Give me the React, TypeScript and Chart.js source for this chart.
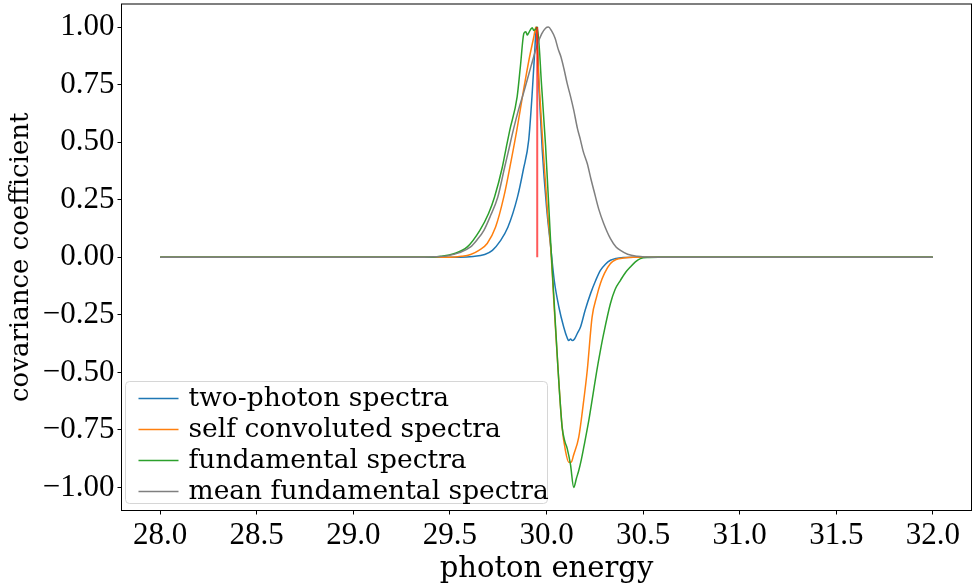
import React, { useEffect, useRef } from 'react';
import { Chart, registerables } from 'chart.js';

Chart.register(...registerables);

// ---- data ----
const xTicks = [28.0, 28.5, 29.0, 29.5, 30.0, 30.5, 31.0, 31.5, 32.0];
const yTicks = [-1.0, -0.75, -0.5, -0.25, 0.0, 0.25, 0.5, 0.75, 1.0];
const seriesLabels = ['two-photon spectra', 'self convoluted spectra', 'fundamental spectra', 'mean fundamental spectra'];
const seriesColors = ['#1f77b4', '#ff7f0e', '#2ca02c', '#7f7f7f'];
const markerColor = 'rgba(255,0,0,0.65)';
const xLabel = 'photon energy';
const yLabel = 'covariance coefficient';

const twoPhoton: [number, number][] = [
  [28, 0], [29.55, 0], [29.62, 0.003], [29.68, 0.012], [29.72, 0.03], [29.76, 0.07], [29.8, 0.13],
  [29.85, 0.262], [29.88, 0.38], [29.908, 0.51], [29.925, 0.7], [29.938, 0.88], [29.948, 1.0],
  [29.962, 0.72], [29.978, 0.465], [30.0, 0.22], [30.021, 0.05], [30.04, -0.1], [30.064, -0.216],
  [30.089, -0.303], [30.107, -0.35], [30.115, -0.362], [30.125, -0.355], [30.133, -0.362],
  [30.145, -0.355], [30.16, -0.33], [30.176, -0.303], [30.2, -0.23], [30.228, -0.158],
  [30.255, -0.1], [30.279, -0.057], [30.305, -0.03], [30.331, -0.013], [30.36, -0.005],
  [30.4, -0.001], [30.45, 0], [32, 0],
];

const selfConvoluted: [number, number][] = [
  [28, 0], [29.5, 0], [29.56, 0.004], [29.607, 0.012], [29.65, 0.03], [29.693, 0.06], [29.736, 0.13],
  [29.779, 0.262], [29.817, 0.42], [29.848, 0.56], [29.88, 0.72], [29.91, 0.86], [29.935, 0.96],
  [29.945, 1.0], [29.96, 0.78], [29.983, 0.465], [30.005, 0.2], [30.021, 0.05], [30.04, -0.22],
  [30.06, -0.49], [30.081, -0.74], [30.098, -0.84], [30.115, -0.89], [30.128, -0.89], [30.14, -0.86],
  [30.167, -0.781], [30.19, -0.64], [30.211, -0.491], [30.236, -0.26], [30.26, -0.17], [30.279, -0.114],
  [30.3, -0.07], [30.331, -0.027], [30.36, -0.01], [30.4, -0.003], [30.45, 0], [32, 0],
];

const fundamental: [number, number][] = [
  [28, 0], [29.4, 0], [29.452, 0.004], [29.52, 0.015], [29.59, 0.045], [29.655, 0.117], [29.7, 0.19],
  [29.731, 0.262], [29.771, 0.39], [29.79, 0.47], [29.81, 0.552], [29.848, 0.697], [29.865, 0.83],
  [29.883, 0.973], [29.893, 0.98], [29.9, 0.965], [29.908, 0.975], [29.918, 0.99], [29.926, 0.997],
  [29.934, 0.985], [29.943, 0.99], [29.952, 1.0], [29.975, 0.74], [29.995, 0.487], [30.021, 0.074],
  [30.04, -0.2], [30.06, -0.49], [30.081, -0.738], [30.095, -0.8], [30.107, -0.83], [30.124, -0.9],
  [30.141, -1.0], [30.155, -0.96], [30.167, -0.926], [30.18, -0.88], [30.193, -0.825], [30.219, -0.709],
  [30.24, -0.6], [30.259, -0.5], [30.278, -0.41], [30.296, -0.332], [30.331, -0.201], [30.355, -0.14],
  [30.383, -0.1], [30.41, -0.065], [30.434, -0.042], [30.46, -0.02], [30.486, -0.006], [30.53, -0.001],
  [30.58, 0], [32, 0],
];

const meanFundamental: [number, number][] = [
  [28, 0], [29.35, 0], [29.42, 0.002], [29.486, 0.006], [29.55, 0.02], [29.607, 0.045], [29.64, 0.075],
  [29.676, 0.117], [29.71, 0.18], [29.748, 0.262], [29.783, 0.39], [29.8, 0.45], [29.828, 0.552],
  [29.855, 0.64], [29.883, 0.719], [29.92, 0.83], [29.952, 0.922], [29.975, 0.97], [29.995, 0.995],
  [30.01, 1.0], [30.025, 0.985], [30.045, 0.95], [30.06, 0.905], [30.075, 0.87], [30.09, 0.82],
  [30.107, 0.755], [30.124, 0.7], [30.141, 0.639], [30.16, 0.56], [30.176, 0.509],
  [30.19, 0.46], [30.211, 0.407], [30.23, 0.34], [30.245, 0.291], [30.27, 0.21], [30.296, 0.147],
  [30.331, 0.081], [30.36, 0.045], [30.383, 0.03], [30.42, 0.013], [30.469, 0.004], [30.52, 0.001],
  [30.56, 0], [32, 0],
];

const peakEnergy = 29.952;
const peakMarker: [number, number][] = [[peakEnergy, 0], [peakEnergy, 1.0]];

const seriesData = [twoPhoton, selfConvoluted, fundamental, meanFundamental];

const textFont = "'DejaVu Serif', serif";
const tickFont = "'Liberation Serif', serif";

const frameAndLegend = {
  id: 'frameAndLegend',
  afterDraw(chart: any) {
    const { ctx, chartArea } = chart;
    ctx.save();
    ctx.strokeStyle = '#000';
    ctx.lineWidth = 1;
    ctx.strokeRect(chartArea.left, chartArea.top, chartArea.right - chartArea.left, chartArea.bottom - chartArea.top);
    const bx = chartArea.left + 4;
    const bw = 422;
    const bh = 122;
    const by = chartArea.bottom - 7 - bh;
    const r = 4;
    ctx.beginPath();
    ctx.moveTo(bx + r, by);
    ctx.lineTo(bx + bw - r, by);
    ctx.quadraticCurveTo(bx + bw, by, bx + bw, by + r);
    ctx.lineTo(bx + bw, by + bh - r);
    ctx.quadraticCurveTo(bx + bw, by + bh, bx + bw - r, by + bh);
    ctx.lineTo(bx + r, by + bh);
    ctx.quadraticCurveTo(bx, by + bh, bx, by + bh - r);
    ctx.lineTo(bx, by + r);
    ctx.quadraticCurveTo(bx, by, bx + r, by);
    ctx.closePath();
    ctx.fillStyle = 'rgba(255,255,255,0.8)';
    ctx.fill();
    ctx.strokeStyle = '#d6d6d6';
    ctx.lineWidth = 1;
    ctx.stroke();
    ctx.font = `26.5px ${textFont}`;
    ctx.textBaseline = 'alphabetic';
    ctx.textAlign = 'left';
    seriesLabels.forEach((lab, i) => {
      const baseY = by + 24 + i * 31;
      ctx.strokeStyle = seriesColors[i];
      ctx.lineWidth = 1.5;
      ctx.beginPath();
      ctx.moveTo(bx + 13, baseY - 7);
      ctx.lineTo(bx + 53, baseY - 7);
      ctx.stroke();
      ctx.fillStyle = '#000';
      ctx.fillText(lab, bx + 63, baseY);
    });
    ctx.restore();
  },
};

const fmtY = (v: number) => (v < 0 ? '\u2212' + Math.abs(v).toFixed(2) : v.toFixed(2));

export default function App() {
  const ref = useRef<HTMLCanvasElement | null>(null);
  useEffect(() => {
    if (!ref.current) return;
    const mk = (pts: [number, number][]) => pts.map(([x, y]) => ({ x, y }));
    const datasets: any[] = [
      {
        label: 'peak',
        data: mk(peakMarker),
        borderColor: markerColor,
        borderWidth: 2,
        pointRadius: 0,
      },
    ];
    for (let i = seriesData.length - 1; i >= 0; i--) {
      datasets.push({
        label: seriesLabels[i],
        data: mk(seriesData[i]),
        borderColor: seriesColors[i],
        borderWidth: 1.5,
        pointRadius: 0,
        cubicInterpolationMode: 'monotone',
      });
    }
    const chart = new Chart(ref.current, {
      type: 'line',
      data: { datasets },
      plugins: [frameAndLegend],
      options: {
        animation: false,
        responsive: true,
        maintainAspectRatio: false,
        layout: { padding: { left: 0, top: 4, right: 2.5, bottom: 0 } },
        plugins: { legend: { display: false }, tooltip: { enabled: false } },
        scales: {
          x: {
            type: 'linear',
            min: 27.8,
            max: 32.2,
            afterBuildTicks: (s: any) => {
              s.ticks = xTicks.map((value) => ({ value }));
            },
            afterFit: (s: any) => {
              s.height = 72.5;
              s.paddingLeft = 0;
              s.paddingRight = 0;
            },
            ticks: {
              callback: (v: any) => Number(v).toFixed(1),
              font: { family: tickFont, size: 31 },
              color: '#000',
              padding: 3,
              maxRotation: 0,
              autoSkip: false,
            },
            grid: { drawOnChartArea: false, drawTicks: true, tickLength: 4, color: '#000', lineWidth: 1 },
            border: { display: true, color: '#000', width: 1 },
            title: {
              display: true,
              text: xLabel,
              font: { family: textFont, size: 29 },
              color: '#000',
              padding: { top: 0, bottom: -4 },
            },
          },
          y: {
            type: 'linear',
            min: -1.1,
            max: 1.1,
            afterBuildTicks: (s: any) => {
              s.ticks = yTicks.map((value) => ({ value }));
            },
            afterFit: (s: any) => {
              s.width = 121.5;
              s.paddingTop = 0;
              s.paddingBottom = 0;
            },
            ticks: {
              callback: (v: any) => fmtY(Number(v)),
              font: { family: tickFont, size: 31 },
              color: '#000',
              padding: 3,
              autoSkip: false,
            },
            grid: { drawOnChartArea: false, drawTicks: true, tickLength: 4, color: '#000', lineWidth: 1 },
            border: { display: true, color: '#000', width: 1 },
            title: {
              display: true,
              text: yLabel,
              font: { family: textFont, size: 26 },
              color: '#000',
              padding: { top: 6, bottom: 0 },
            },
          },
        },
      },
    });
    return () => chart.destroy();
  }, []);
  return (
    <div style={{ position: 'absolute', left: 0, top: 0, width: 974, height: 583, background: '#fff' }}>
      <canvas ref={ref} />
    </div>
  );
}
